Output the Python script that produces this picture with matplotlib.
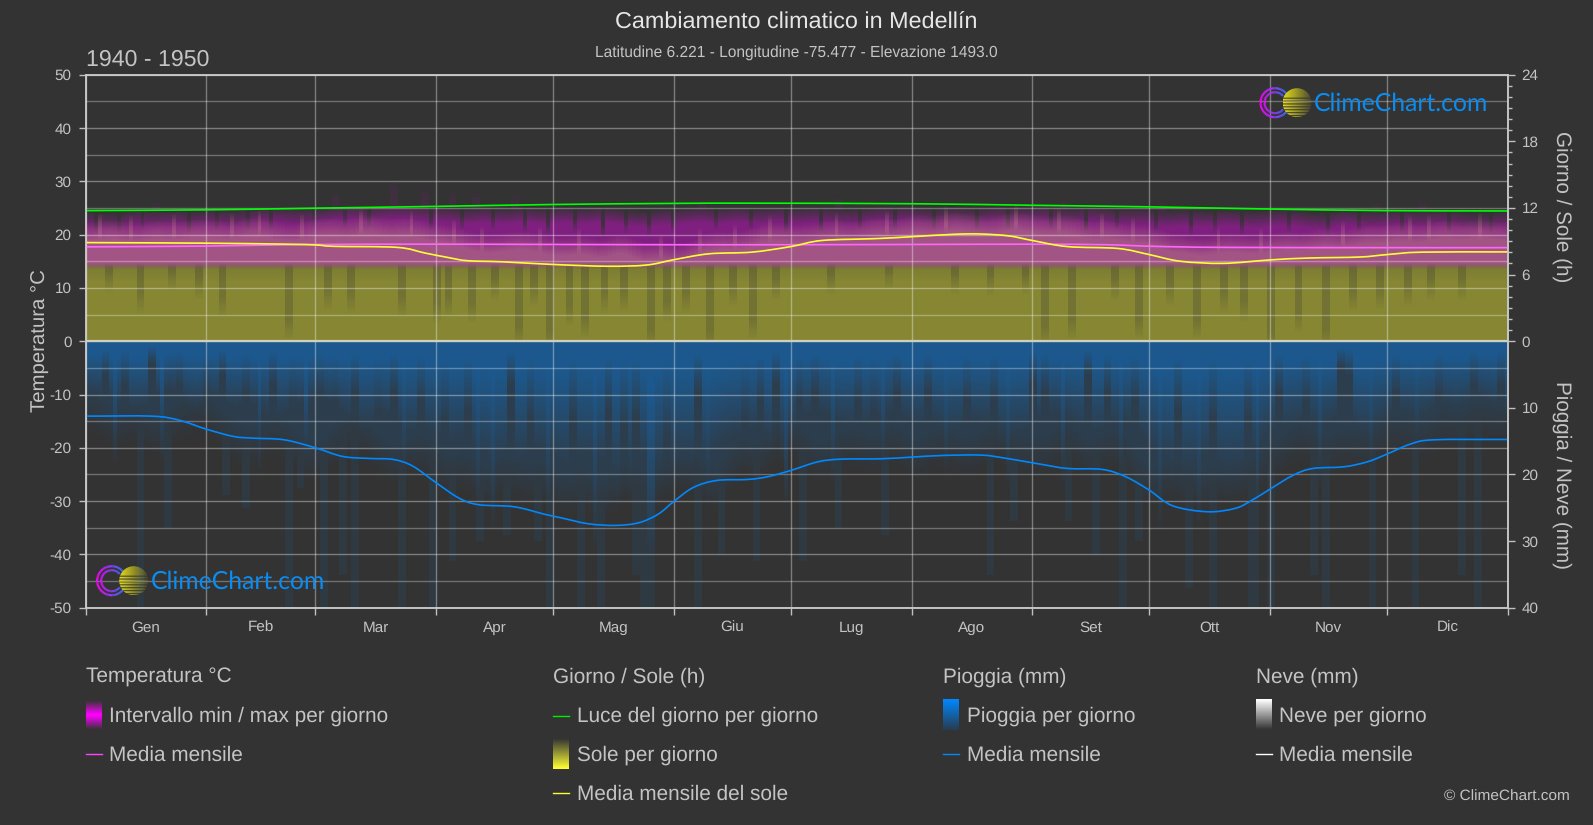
import numpy as np
import matplotlib
matplotlib.use('Agg')
import matplotlib.pyplot as plt
from matplotlib.collections import LineCollection
from matplotlib.patches import Circle, PathPatch
from matplotlib.path import Path

plt.rcParams['font.family'] = ['Liberation Sans', 'DejaVu Sans']
plt.rcParams['text.hinting'] = 'none'
plt.rcParams['axes.unicode_minus'] = False

W, H = 1593, 825
BG = '#333333'
TXT = '#c4c4c4'

months = ['Gen', 'Feb', 'Mar', 'Apr', 'Mag', 'Giu', 'Lug', 'Ago', 'Set', 'Ott', 'Nov', 'Dic']
month_edges = [0, 31, 59, 90, 120, 151, 181, 212, 243, 273, 304, 334, 365]

# monthly lines
temp_mean_days = [0, 31, 59, 90, 120, 151, 181, 212, 243, 262, 274, 292, 334, 365]
temp_mean = [17.7, 17.85, 18.15, 18.2, 18.15, 18.1, 18.1, 18.15, 18.2, 18.1, 17.8, 17.6, 17.55, 17.55]

daylight_days = [0, 31, 59, 90, 120, 151, 172, 212, 243, 273, 304, 334, 365]
daylight_h = [11.76, 11.83, 11.98, 12.14, 12.31, 12.41, 12.43, 12.38, 12.24, 12.1, 11.9, 11.76, 11.73]

sun_mean_days = [0, 30, 51, 59, 64, 80, 87, 93, 98, 107, 120, 134, 144, 151, 160, 171, 181, 189,
                 203, 212, 223, 230, 237, 243, 252, 265, 273, 281, 292, 304, 314, 327, 334, 343, 365]
sun_mean_h = [8.88, 8.83, 8.74, 8.67, 8.54, 8.45, 7.95, 7.54, 7.25, 7.15, 6.91, 6.75, 6.86, 7.34, 7.87,
              8.02, 8.52, 9.07, 9.24, 9.41, 9.63, 9.65, 9.48, 9.07, 8.52, 8.35, 7.8, 7.2, 7.01, 7.32,
              7.49, 7.58, 7.8, 8.02, 8.04]

rain_mean_days = [0, 17, 24, 31, 38, 43, 51, 59, 66, 73, 79, 84, 90, 96, 101, 110, 118, 122, 129, 136,
                  142, 147, 151, 156, 162, 170, 175, 181, 188, 194, 204, 212, 220, 230, 236, 245, 252,
                  261, 267, 273, 279, 288, 295, 299, 304, 310, 315, 323, 329, 334, 340, 346, 365]
rain_mean_mm = [11.25, 11.25, 11.85, 13.2, 14.3, 14.55, 14.8, 16, 17.3, 17.6, 17.75, 18.75, 21.25, 23.6,
                24.55, 24.85, 26, 26.5, 27.4, 27.65, 27.25, 25.95, 24.05, 21.95, 20.9, 20.75, 20.35,
                19.4, 18.1, 17.7, 17.65, 17.4, 17.15, 17.1, 17.55, 18.45, 19.1, 19.25, 20.35, 22.35,
                24.7, 25.6, 25.1, 24, 22.2, 20.1, 19.1, 18.85, 18.1, 16.95, 15.45, 14.8, 14.75]

# five day blocks across the year, estimated from the zoomed picture
pink_top = [20.5, 21, 20, 21, 20.5, 21, 21, 20.5, 21.5, 21, 20, 21, 21.5, 21, 22, 21, 21.5, 20.5,
            20, 19, 18, 18.5, 19, 18, 17.5, 18, 17, 18.5, 16.5, 17, 16, 18, 19, 18.5, 20, 20.5,
            20, 20.5, 21, 20.5, 21.5, 21, 22, 21.5, 22.5, 22, 21.5, 22.5, 22, 21.5, 22, 20.5, 21, 20,
            20, 18.5, 18, 17.5, 18.5, 18, 18, 19, 18.5, 19.5, 19, 20, 20, 20.5, 20, 21, 20.5, 21, 20.5]
purple_top = [23.5, 23, 24, 23.5, 24, 23.5, 24, 23.5, 24, 24.5, 24, 24, 24.5, 25, 24.5, 25, 25, 24.5,
              24.5, 24, 24.5, 24, 24.5, 24, 24.5, 24, 24.5, 24, 23.5, 24, 24, 24.5, 24, 24.5, 24, 24.5,
              24, 24.5, 24, 24, 24.5, 24.5, 24.5, 24, 24.5, 24, 24.5, 24.5, 24.5, 24.5, 24, 24.5, 24, 24,
              24, 23.5, 24, 23.5, 24, 23.5, 23.5, 24, 23.5, 23, 24, 23.5, 23.5, 24, 23.5, 24, 23.5, 23, 23.5]
rain_body = [6, 7, 8, 7, 5, 8, 6, 8, 7, 9, 8, 7, 7, 9, 10, 8, 11, 10, 12, 11, 14, 13, 14, 12,
             15, 13, 14, 16, 13, 15, 13, 14, 12, 11, 10, 12, 9, 8, 9, 10, 9, 8, 10, 9, 11, 9, 10, 11,
             10, 8, 9, 11, 10, 9, 12, 14, 15, 13, 15, 14, 11, 10, 9, 10, 8, 11, 9, 8, 9, 7, 8, 6, 8]
rain_faint = [14, 17, 15, 18, 16, 14, 15, 18, 20, 17, 19, 22, 20, 17, 18, 22, 21, 20, 24, 22, 26, 23, 25, 24,
              27, 25, 28, 24, 26, 25, 22, 24, 26, 20, 22, 18, 18, 22, 20, 19, 21, 18, 22, 19, 20, 21, 18, 20,
              21, 20, 18, 22, 19, 21, 26, 24, 25, 26, 24, 25, 22, 20, 18, 21, 19, 20, 18, 17, 19, 16, 17, 15, 16]

# single days that stand out
rain_long_days = [13, 20, 35, 40, 51, 54, 60, 65, 68, 80, 88, 93, 100, 107, 115, 118, 126, 131, 140, 142, 144,
                  156, 162, 171, 183, 192, 204, 231, 237, 251, 258, 265, 269, 282, 288, 298, 299, 303, 314,
                  317, 329, 340, 352, 356]
rain_long_mm = [40, 28, 23, 25, 40, 22, 40, 35, 40, 40, 40, 33, 30, 29, 30, 40, 40, 40, 35, 40, 40,
                40, 32, 33, 33, 28, 29, 35, 27, 27, 32, 40, 30, 37, 40, 40, 40, 40, 35,
                40, 40, 40, 35, 40]
rain_gap_days = [4, 9, 16, 23, 30, 34, 40, 47, 52, 59, 63, 68, 74, 78, 85, 91, 97, 108, 113,
                 124, 133, 137, 140, 148, 156, 165, 168, 172, 176, 182, 186, 197, 201, 207, 215, 225, 232, 242,
                 245, 256, 261, 268, 279, 288, 297, 305, 312, 321, 323, 335, 346, 355, 362]
rain_gap_mm = [4, 5, 2.5, 5, 6, 4, 6, 5, 7, 6, 7, 6, 8, 6, 7, 9, 8, 5, 9,
               9, 8, 10, 9, 11, 6, 11, 9, 7, 5, 7, 6, 7, 8, 6, 6, 7, 7, 5,
               6, 4, 6, 7, 8, 9, 9, 6, 7, 3, 4, 6, 6, 5, 5]
rain_bright_days = [7, 19, 44, 56, 81, 100, 104, 118, 130, 144, 145, 159, 179, 191, 204, 220, 236, 250, 265,
                    275, 285, 300, 316, 329, 341]
rain_bright_mm = [11, 11, 12, 12, 13, 16, 17, 17, 19, 22, 22, 15, 15, 13, 12, 12, 13, 13, 13,
                  17, 17, 17, 13, 12, 10]
sun_gap_days = [5, 13, 21, 28, 34, 51, 61, 67, 80, 89, 92, 98, 104, 110, 114, 118, 123, 127, 132, 137, 144, 148,
                153, 159, 165, 170, 176, 190, 205, 222, 231, 240, 245, 252, 263, 269, 277, 284, 291, 296,
                303, 310, 317, 324, 331, 338, 344, 352]
sun_gap_t = [11.4, 7.7, 11.75, 10.2, 7, 2.7, 8.3, 7.7, 7, 5.7, 7, 5.8, 10, 1.4, 9, 0.5, 5.2, 3, 7.7, 8, 0.8, 6,
             7.7, 0.5, 9, 2.7, 10, 11, 12, 11, 10.8, 11, 1.4, 2.7, 10, 2.7, 9, 2.7, 7.7, 6,
             0.2, 4, 0.8, 8, 8.3, 9, 10, 10]
temp_peak_days = [17, 63, 65, 78, 86, 93, 99, 109, 157, 192, 243, 250, 275, 330, 342]
temp_peak_t = [25.8, 27.7, 26, 29.5, 28.3, 27.7, 27.4, 27, 26.4, 26.7, 26, 26.7, 26, 25.8, 26]
temp_notch_days = [2, 8, 14, 26, 33, 41, 47, 58, 66, 72, 88, 96, 104, 112, 118, 125, 132, 138, 144, 150, 161, 170,
                   179, 188, 198, 207, 217, 228, 236, 247, 256, 264, 274, 283, 289, 296, 308, 318, 326, 337, 349, 360]
temp_notch_t = [22.5, 22.5, 23, 22.5, 23, 23, 23, 23.5, 23.5, 23.5, 23, 23, 23, 22.5, 22, 22.5, 21.5, 22.5, 22, 22.5,
                23, 23, 22.5, 22.5, 23, 23, 23, 23, 23, 23, 22.5, 23, 22.5, 22, 22.5, 22, 22.5, 22, 22.5, 22.5, 22.5, 22.5]
pink_spike_days = [3, 11, 22, 37, 44, 55, 70, 83, 94, 101, 116, 126, 147, 157, 166, 175, 192, 205, 220, 238, 249,
                   260, 268, 290, 301, 322, 339, 344, 357]


def h2t(h):
    return np.asarray(h) * 50.0 / 24.0


def mm2t(mm):
    return -np.asarray(mm) * 50.0 / 40.0


def to_days(blocks):
    # the blocks are only a coarse reading, so soften the steps between them
    d = np.repeat(np.array(blocks, float), 5)
    return np.convolve(np.pad(d, 3, mode='edge'), np.ones(7) / 7, mode='valid')


def layer(color, alpha, y0, y1):
    # one RGBA picture, first row is y0
    img = np.zeros(alpha.shape + (4,))
    img[..., 0] = color[0] / 255
    img[..., 1] = color[1] / 255
    img[..., 2] = color[2] / 255
    img[..., 3] = alpha
    return ax.imshow(img, extent=[0, 365, y1, y0], origin='upper', aspect='auto',
                     interpolation='nearest', zorder=1)


def curve(days, vals, color):
    # bezier through the read points, the original lines are rounded
    x = np.array(days, float)
    y = np.array(vals, float)
    tx = np.gradient(x)
    ty = np.gradient(y)
    verts = [(x[0], y[0])]
    codes = [Path.MOVETO]
    for i in range(len(x) - 1):
        verts += [(x[i] + tx[i] / 3, y[i] + ty[i] / 3), (x[i + 1] - tx[i + 1] / 3, y[i + 1] - ty[i + 1] / 3),
                  (x[i + 1], y[i + 1])]
        codes += [Path.CURVE4] * 3
    ax.add_patch(PathPatch(Path(verts, codes), fill=False, edgecolor=color, lw=1.2, zorder=3))


fig = plt.figure(figsize=(W / 100, H / 100), dpi=100, facecolor=BG)
ax = fig.add_axes([85.5 / W, 1 - 607.7 / H, (1507.7 - 85.5) / W, (607.7 - 74.7) / H], facecolor=BG)

# temperature band and sun
yt = np.arange(0, 32, 0.1)[:, None]
t_pink = to_days(pink_top)
t_purple = to_days(purple_top)
t_faint = t_purple.copy()
for d, v in zip(temp_notch_days, temp_notch_t):
    t_purple[d] = v
for d, v in zip(temp_peak_days, temp_peak_t):
    t_faint[d:d + 2] = v
for d in pink_spike_days:
    t_pink[d] += 1.5

a_mag = 0.38 * np.clip((t_purple + 0.8 - yt) / 3.2, 0, 1)
a_mag = np.maximum(a_mag, 0.07 * np.clip((t_faint + 0.5 - yt) / 2, 0, 1))
a_mag = a_mag * np.clip((yt - 13.4) / 1.2, 0, 1)
layer((255, 0, 255), a_mag, 0, 32)

sun_limit = np.full(365, 16.5)
for d, v in zip(sun_gap_days, sun_gap_t):
    sun_limit[d:d + 2] = v
a_sun = 0.41 - 0.10 * np.clip((yt - sun_limit + 2.5) / 4.0, 0, 1)
a_sun = a_sun - 0.05 * np.clip((yt - 11) / 3, 0, 1)
a_sun = a_sun * np.clip((14.6 - yt) / 1.2, 0, 1)
layer((255, 255, 51), a_sun, 0, 32)
a_warm = 0.28 * np.clip((t_pink + 1.8 - yt) / 3.6, 0, 1) * np.clip((yt - 13.4) / 1.2, 0, 1)
layer((255, 224, 148), a_warm, 0, 32)

# rain
yr = np.arange(0, 40, 0.1)[:, None]
r_body = to_days(rain_body)
r_faint = to_days(rain_faint)
for d, v in zip(rain_gap_days, rain_gap_mm):
    r_body[d:d + 2] = v
for d, v in zip(rain_bright_days, rain_bright_mm):
    r_body[d] = v
a_rain = 0.45 * np.clip((r_body * 1.7 - yr) / (r_body * 1.4), 0, 1)
a_rain = np.maximum(a_rain, 0.14 * np.clip((r_faint - yr) / 7, 0, 1))
a_long = np.zeros(a_rain.shape)
for d, v in zip(rain_long_days, rain_long_mm):
    a_long[:, d:d + 2] = 0.08 * (yr < v)
a_rain = np.maximum(a_rain, a_long)
layer((0, 136, 255), a_rain, 0, -50)

curve(temp_mean_days, temp_mean, '#ff66ff')
curve(daylight_days, h2t(daylight_h), '#00ff00')
curve(sun_mean_days, h2t(sun_mean_h), '#ffff33')
curve(rain_mean_days, mm2t(rain_mean_mm), '#0088ff')
ax.axhline(0, color='#cfcfc0', lw=1.6, zorder=3)

ax.set_xlim(0, 365)
ax.set_ylim(-50, 50)
ax.set_xticks(month_edges)
ax.set_xticklabels([])
ax.tick_params(axis='x', which='major', length=5, width=1, color='#c0c0c0')
# month names on one baseline, the ticks sit on the month edges
for m, x0, x1 in zip(months, month_edges[:-1], month_edges[1:]):
    ax.text((x0 + x1) / 2, -0.0456, m, transform=ax.get_xaxis_transform(), color=TXT, fontsize=11,
            ha='center', va='baseline')
ax.set_yticks(np.arange(-50, 51, 10))
ax.set_yticks(np.arange(-45, 50, 10), minor=True)
ax.tick_params(axis='y', which='major', length=5, width=1, color='#c0c0c0', labelsize=11, labelcolor=TXT, pad=5)
ax.tick_params(axis='y', which='minor', length=0)
ax.set_axisbelow(False)
ax.grid(True, which='major', color='white', alpha=0.36, lw=1.0)
ax.grid(True, which='minor', axis='y', color='white', alpha=0.3, lw=1.0)

ax2 = ax.twinx()
ax2.set_ylim(-50, 50)
right_h = [0, 6, 12, 18, 24]
right_mm = [10, 20, 30, 40]
ax2.set_yticks(list(h2t(right_h)) + list(mm2t(right_mm)), [str(v) for v in right_h] + [str(v) for v in right_mm])
ax2.set_yticks(h2t(np.arange(1, 24)), minor=True)
ax2.tick_params(axis='y', which='major', length=5, width=1, color='#c0c0c0', labelsize=11, labelcolor=TXT, pad=5)
ax2.tick_params(axis='y', which='minor', length=3, width=1, color='#c0c0c0')

for a in (ax, ax2):
    for s in a.spines.values():
        s.set_color('#c8c8c8')
        s.set_linewidth(1.1)

# overlay in pixels for the text, legend and logo
ov = fig.add_axes([0, 0, 1, 1], facecolor='none', zorder=10)
ov.set_xlim(0, W)
ov.set_ylim(H, 0)
ov.axis('off')

ov.text(796, 23, 'Cambiamento climatico in Medellín', color='#e6e6e6', fontsize=16.8, ha='center', va='center')
ov.text(796, 52.5, 'Latitudine 6.221 - Longitudine -75.477 - Elevazione 1493.0', color=TXT, fontsize=11.2,
        ha='center', va='center')
ov.text(85.5, 60, '1940 - 1950', color=TXT, fontsize=16.7, ha='left', va='center')
ov.text(41, 341, 'Temperatura °C', color=TXT, fontsize=14.7, rotation=90, ha='center', va='center')
ov.text(1562, 207, 'Giorno / Sole (h)', color=TXT, fontsize=14.9, rotation=270, ha='center', va='center')
ov.text(1562, 475, 'Pioggia / Neve (mm)', color=TXT, fontsize=14.9, rotation=270, ha='center', va='center')


def swatch(x, y0, y1, stops):
    # stops: colour per row, top to bottom
    img = np.array(stops)[:, None, :]
    ov.imshow(img, extent=[x, x + 16, y1, y0], aspect='auto', interpolation='bicubic', zorder=2)


def ramp(c0, c1, n=24):
    return [np.array(c0) * (1 - t) + np.array(c1) * t for t in np.linspace(0, 1, n)]


dark = (0.2, 0.2, 0.2)
LEG = 14.95
swatch(85.7, 700, 730, ramp(dark, (1, 0, 1), 12) + ramp((1, 0, 1), dark, 12))
swatch(553.3, 738, 769, ramp(dark, (1, 1, 0.2)))
swatch(943, 699, 730, ramp((0, 0.53, 1), (0.15, 0.24, 0.32)))
swatch(1255.5, 699, 730, ramp((1, 1, 1), dark))

for x, txt in [(85.7, 'Temperatura °C'), (553.3, 'Giorno / Sole (h)'), (943, 'Pioggia (mm)'), (1255.5, 'Neve (mm)')]:
    ov.text(x, 677, txt, color=TXT, fontsize=LEG, ha='left', va='center')
for x, y, txt in [(109.3, 716, 'Intervallo min / max per giorno'), (109.3, 755, 'Media mensile'),
                  (577, 716, 'Luce del giorno per giorno'), (577, 755, 'Sole per giorno'),
                  (577, 794, 'Media mensile del sole'), (966.7, 716, 'Pioggia per giorno'),
                  (966.7, 755, 'Media mensile'), (1279, 716, 'Neve per giorno'), (1279, 755, 'Media mensile')]:
    ov.text(x, y, txt, color=TXT, fontsize=LEG, ha='left', va='center')
for x, y, col in [(85.7, 754, '#ff44ff'), (553.3, 715.7, '#00ee00'), (553.3, 793, '#ffff33'),
                  (943, 754, '#0088ff'), (1255.5, 754, '#ffffff')]:
    ov.plot([x, x + 16], [y, y], color=col, lw=1.0)
ov.text(1570, 797, '© ClimeChart.com', color=TXT, fontsize=11.1, ha='right', va='center')


def logo(cx, cy):
    # the rings
    for r in (14.5, 10.5):
        ang = np.radians(np.linspace(40, 320, 60))
        px = cx + r * np.cos(ang)
        py = cy - r * np.sin(ang)
        pts = np.column_stack([px, py]).reshape(-1, 1, 2)
        segs = np.concatenate([pts[:-1], pts[1:]], axis=1)
        t = np.clip((px[:-1] - (cx - 15)) / 30, 0, 1)[:, None]
        cols = (1 - t) * np.array([[1, 0, 1]]) + t * np.array([[0.1, 0.5, 1]])
        ov.add_collection(LineCollection(segs, colors=cols, linewidths=1.6))
    # the sun, fades to the right and has stripes in the lower half
    sx = cx + 22
    n = 60
    g = np.zeros((n, n, 4))
    g[..., 0] = 0.9
    g[..., 1] = 0.87
    g[..., 2] = 0.1
    g[..., 3] = np.linspace(1, 0.12, n)[None, :]
    for row in range(n // 3, n, 6):
        g[row:row + 2, :, 3] = 0
    im = ov.imshow(g, extent=[sx - 14.5, sx + 14.5, cy + 14.5, cy - 14.5], aspect='auto', zorder=3)
    clip = Circle((sx, cy), 14.5, transform=ov.transData)
    im.set_clip_path(clip)
    ov.text(cx + 39, cy + 1, 'ClimeChart.com', color='#0a8cf0', fontsize=17.8, family=['Lato', 'DejaVu Sans'],
            ha='left', va='center', zorder=4)


logo(1275, 102.7)
logo(111.7, 580.7)
ov.set_xlim(0, W)
ov.set_ylim(H, 0)

fig.savefig('out.png', dpi=100, facecolor=BG)
